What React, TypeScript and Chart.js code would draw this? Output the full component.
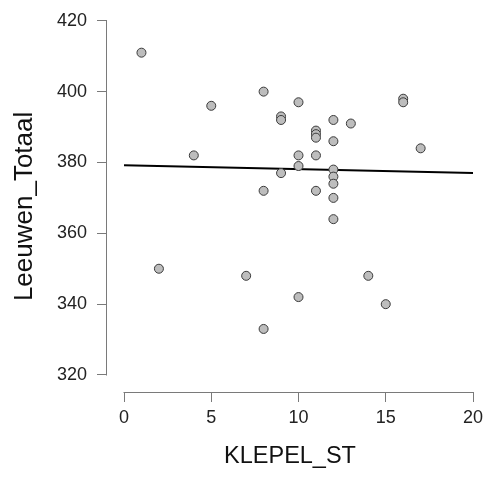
import React, { useEffect, useRef } from "react";
import { Chart, registerables } from "chart.js";

Chart.register(...registerables);

// Data
const klepelSt = [1, 2, 4, 5, 7, 8, 8, 8, 9, 9, 9, 10, 10, 10, 10, 11, 11, 11, 11, 11, 12, 12, 12, 12, 12, 12, 12, 13, 14, 15, 16, 16, 17];
const leeuwenTotaal = [411, 350, 382, 396, 348, 400, 372, 333, 393, 392, 377, 397, 382, 379, 342, 389, 388, 387, 382, 372, 392, 386, 378, 376, 374, 370, 364, 391, 348, 340, 398, 397, 384];
const xTicks = [0, 5, 10, 15, 20];
const yTicks = [320, 340, 360, 380, 400, 420];
const fitX = [0, 20];
const fitY = [379.2, 377.0];

const FONT = "'Liberation Sans', Arial, Helvetica, sans-serif";
const AXIS_COLOR = "#7a7a7a";

const axisLines = {
  id: "axisLines",
  beforeDatasetsDraw(chart: any) {
    const { ctx, chartArea, scales } = chart;
    const x = scales.x;
    const y = scales.y;
    ctx.save();
    ctx.strokeStyle = AXIS_COLOR;
    ctx.lineWidth = 1;
    ctx.beginPath();
    const lx = Math.round(chartArea.left) - 0.5;
    ctx.moveTo(lx, Math.round(y.getPixelForValue(yTicks[0])) + 0.5);
    ctx.lineTo(lx, Math.round(y.getPixelForValue(yTicks[yTicks.length - 1])) - 0.5);
    const by = Math.round(chartArea.bottom) + 0.5;
    ctx.moveTo(Math.round(x.getPixelForValue(xTicks[0])) - 0.5, by);
    ctx.lineTo(Math.round(x.getPixelForValue(xTicks[xTicks.length - 1])) + 0.5, by);
    ctx.stroke();
    ctx.restore();
  },
};

export default function App() {
  const ref = useRef<HTMLCanvasElement | null>(null);

  useEffect(() => {
    if (!ref.current) return;
    const chart = new Chart(ref.current, {
      type: "scatter",
      data: {
        datasets: [
          {
            label: "Leeuwen_Totaal",
            data: klepelSt.map((v, i) => ({ x: v, y: leeuwenTotaal[i] })),
            backgroundColor: "#bdbdbd",
            borderColor: "#3a3a3a",
            borderWidth: 1,
            pointRadius: 4.5,
            pointHoverRadius: 4.5,
          },
          {
            label: "fit",
            data: fitX.map((v, i) => ({ x: v, y: fitY[i] })),
            showLine: true,
            borderColor: "#000000",
            borderWidth: 2,
            pointRadius: 0,
            fill: false,
          } as any,
        ],
      },
      options: {
        responsive: false,
        animation: false,
        devicePixelRatio: 1,
        layout: { padding: { left: 0, top: 19, right: 21, bottom: 0 } },
        plugins: {
          legend: { display: false },
          tooltip: { enabled: false },
        },
        scales: {
          x: {
            type: "linear",
            min: -0.975,
            max: 20,
            afterBuildTicks: (scale: any) => {
              scale.ticks = xTicks.map((v) => ({ value: v }));
            },
            afterFit: (scale: any) => {
              scale.height = 477 - 392;
            },
            grid: {
              display: true,
              drawOnChartArea: false,
              drawTicks: true,
              tickLength: 10,
              color: AXIS_COLOR,
            },
            border: { display: false },
            ticks: {
              color: "#222",
              padding: 5,
              maxRotation: 0,
              font: { family: FONT, size: 18 },
            },
            title: {
              display: true,
              text: "KLEPEL_ST",
              color: "#111",
              font: { family: FONT, size: 23.5 },
              padding: { top: 0, bottom: 6 },
            },
          },
          y: {
            type: "linear",
            min: 315.2,
            max: 420,
            afterBuildTicks: (scale: any) => {
              scale.ticks = yTicks.map((v) => ({ value: v }));
            },
            afterFit: (scale: any) => {
              scale.width = 107;
            },
            grid: {
              display: true,
              drawOnChartArea: false,
              drawTicks: true,
              tickLength: 10,
              color: AXIS_COLOR,
            },
            border: { display: false },
            ticks: {
              color: "#222",
              padding: 10,
              font: { family: FONT, size: 18 },
            },
            title: {
              display: true,
              text: "Leeuwen_Totaal",
              color: "#111",
              font: { family: FONT, size: 26 },
              padding: { top: 9, bottom: 0 },
            },
          },
        },
      },
      plugins: [axisLines],
    });
    return () => chart.destroy();
  }, []);

  return (
    <div style={{ position: "absolute", left: 0, top: 0, width: 494, height: 477 }}>
      <canvas ref={ref} width={494} height={477} style={{ width: 494, height: 477, display: "block" }} />
    </div>
  );
}
